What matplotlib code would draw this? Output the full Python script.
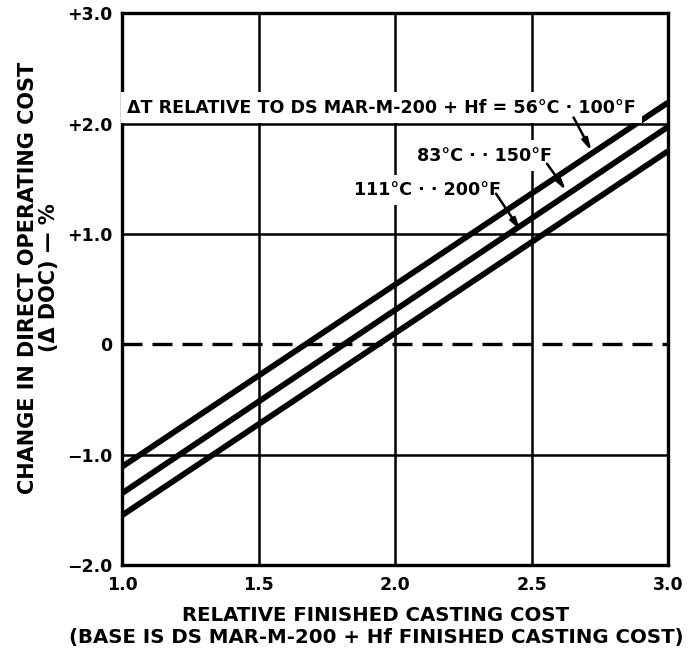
import matplotlib
matplotlib.use("Agg")
import matplotlib.pyplot as plt

# ---- data ----
x_cost = [1.0, 3.0]
doc_56C = [-1.11, 2.19]
doc_83C = [-1.35, 1.97]
doc_111C = [-1.55, 1.75]

x_ticks = [1.0, 1.5, 2.0, 2.5, 3.0]
x_ticklabels = ["1.0", "1.5", "2.0", "2.5", "3.0"]
y_ticks = [-2.0, -1.0, 0.0, 1.0, 2.0, 3.0]
y_ticklabels = ["\u22122.0", "\u22121.0", "0", "+1.0", "+2.0", "+3.0"]

plt.rcParams['font.family'] = ['DejaVu Sans']
plt.rcParams['font.weight'] = 'bold'

fig = plt.figure(figsize=(6.96, 6.57), dpi=100)
ax = fig.add_axes([0.1753, 0.140, 0.7845, 0.840])

ax.set_xlim(1.0, 3.0)
ax.set_ylim(-2.0, 3.0)

# grid
for xv in [1.5, 2.0, 2.5]:
    ax.axvline(xv, color='black', lw=1.8, zorder=1)
for yv in [-1.0, 1.0, 2.0]:
    ax.axhline(yv, color='black', lw=1.8, zorder=1)
ax.axhline(0.0, color='black', lw=2.4, dashes=(6, 3), zorder=1)

# data lines
for yy in (doc_56C, doc_83C, doc_111C):
    ax.plot(x_cost, yy, color='black', lw=4.2, solid_capstyle='butt', zorder=3)

for sp in ax.spines.values():
    sp.set_linewidth(2.4)

ax.set_xticks(x_ticks)
ax.set_xticklabels(x_ticklabels, fontsize=12.5, fontweight='bold')
ax.set_yticks(y_ticks)
ax.set_yticklabels(y_ticklabels, fontsize=12.5, fontweight='bold')
ax.tick_params(axis='x', length=0, pad=8)
ax.tick_params(axis='y', length=0, pad=7)

# annotations
bbox = dict(boxstyle='square,pad=0.35', fc='white', ec='none')
ax.text(1.017, 2.145, "\u0394T RELATIVE TO DS MAR-M-200 + Hf = 56\u00b0C \u00b7 100\u00b0F",
        fontsize=12.6, fontweight='bold', va='center', ha='left', bbox=bbox, zorder=5)
ax.text(2.08, 1.71, "83\u00b0C \u00b7 \u00b7 150\u00b0F", fontsize=12.6, fontweight='bold',
        va='center', ha='left', bbox=bbox, zorder=5)
ax.text(1.85, 1.40, "111\u00b0C \u00b7 \u00b7 200\u00b0F", fontsize=12.6, fontweight='bold',
        va='center', ha='left', bbox=bbox, zorder=5)

arrow = dict(arrowstyle='-|>,head_length=0.7,head_width=0.18', color='black', lw=1.8,
             shrinkA=0, shrinkB=0)
ax.annotate("", xy=(2.72, 1.75), xytext=(2.654, 2.055), arrowprops=arrow, zorder=6)
ax.annotate("", xy=(2.626, 1.395), xytext=(2.557, 1.635), arrowprops=arrow, zorder=6)
ax.annotate("", xy=(2.46, 1.03), xytext=(2.37, 1.364), arrowprops=arrow, zorder=6)

ax.set_xlabel("RELATIVE FINISHED CASTING COST\n(BASE IS DS MAR-M-200 + Hf FINISHED CASTING COST)",
              fontsize=14.2, fontweight='bold', linespacing=1.15)
ax.xaxis.set_label_coords(0.465, -0.075)
ax.set_ylabel("CHANGE IN DIRECT OPERATING COST\n(\u0394 DOC) \u2014 %",
              fontsize=15, fontweight='bold', linespacing=1.1)
ax.yaxis.set_label_coords(-0.115, 0.52)

fig.savefig("out.png", dpi=100)
